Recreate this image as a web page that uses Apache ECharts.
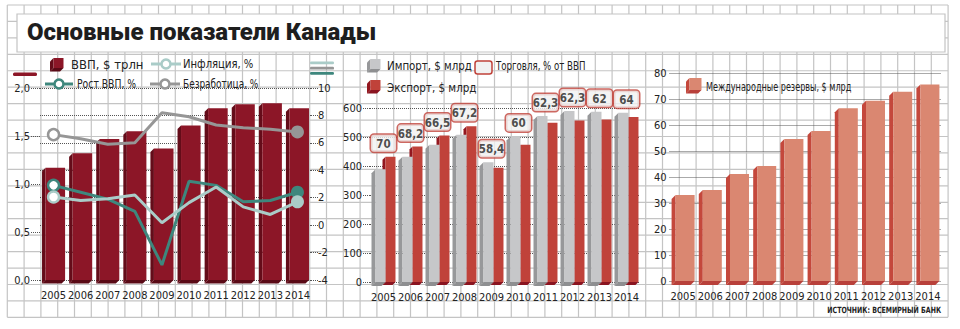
<!DOCTYPE html>
<html><head><meta charset="utf-8">
<script src="https://cdn.jsdelivr.net/npm/echarts@6/dist/echarts.min.js"></script>
<style>html,body{margin:0;padding:0;background:#fff}#c{width:960px;height:329px}</style>
</head><body><div id="c"></div>
<script>
// ---- data ----
const years = ['2005','2006','2007','2008','2009','2010','2011','2012','2013','2014'];
const gdpTrillion = [1.17,1.32,1.47,1.55,1.37,1.61,1.79,1.83,1.84,1.79];
const inflationPct = [2.05,1.8,1.93,2.2,0.17,1.64,2.78,1.33,0.78,1.7];
const gdpGrowthPct = [2.9,2.4,1.9,1.0,-2.9,3.2,2.9,1.7,1.8,2.4];
const unemploymentPct = [6.6,6.3,5.9,6.0,8.2,7.9,7.3,7.1,7.0,6.8];
const importsBn = [389,432,473,508,413,502,572,590,587,584];
const exportsBn = [432,467,505,537,394,473,549,557,560,569];
const tradePctGdp = [70,68.2,66.5,67.2,58.4,60,62.3,62.3,62,64];
const reservesBn = [33.1,35.0,41.2,44.2,54.6,57.7,66.4,69.3,72.8,75.6];
const gdpTicks = [0,0.5,1,1.5,2];
const rateTicks = [-4,-2,0,2,4,6,8,10];
const tradeTicks = [0,100,200,300,400,500,600];
const reserveTicks = [0,10,20,30,40,50,60,70,80];

const title = 'Основные показатели Канады';
const source = 'ИСТОЧНИК: ВСЕМИРНЫЙ БАНК';

// ---- styles ----
const NARROW = "'DejaVu Sans Condensed','Liberation Sans',sans-serif";
const C = {
  gdp:['#8c1627','#640c19','#5a0a16'],
  imp:['#c6c7c9','#97989a','#8e8f91'],
  exp:['#c0423a','#93171f','#8a1420'],
  res:['#da8771','#c4483c','#b8403a'],
  growth:'#3e877d', infl:'#aaccc8', unemp:'#969696', grid:'#c4c4c4', dot:'#555'
};

function bar3d(col, l, r, d){
  return function(params, api){
    const x = api.value(0), v = api.value(1);
    const top = api.coord([x, v]), base = api.coord([x, 0]);
    const bw = api.size([1,0])[0];
    const xL = top[0] + bw*l, xR = top[0] + bw*r;
    return {type:'group', children:[
      {type:'polygon', shape:{points:[[xL-d, top[1]+d],[xL, top[1]],[xL, base[1]],[xL-d, base[1]+d]]}, style:{fill:col[1]}},
      {type:'polygon', shape:{points:[[xL-d, base[1]+d],[xL, base[1]],[xR, base[1]],[xR-d, base[1]+d]]}, style:{fill:col[2]}},
      {type:'rect', shape:{x:xL, y:top[1], width:xR-xL, height:base[1]-top[1]}, style:{fill:col[0]}}
    ]};
  };
}
function pairs(arr){ return arr.map((v,i)=>[i,v]); }
function lineData(arr, col){
  return arr.map((v,i)=> i===0 ? {value:v, symbol:'circle', symbolSize:11, itemStyle:{color:'#fff', borderColor:col, borderWidth:2.5}}
    : i===arr.length-1 ? {value:v, symbol:'circle', symbolSize:13, itemStyle:{color:col, borderWidth:0}}
    : {value:v, symbol:'none'});
}

// ---- decorative graphics ----
const g = [];
for(let i=0;i<=56;i++){ const x=7.3+i*16.8; g.push({type:'line', z:0, silent:true, shape:{x1:x,y1:5,x2:x,y2:317.3}, style:{stroke:C.grid, lineWidth:1.2}}); }
for(let j=0;j<=19;j++){ const y=5+j*16.44; g.push({type:'line', z:0, silent:true, shape:{x1:7.3,y1:y,x2:948,y2:y}, style:{stroke:C.grid, lineWidth:1.2}}); }
g.push({type:'rect', z:1, shape:{x:17, y:14, width:928, height:38}, style:{fill:'#fff', stroke:C.grid, lineWidth:1.2}});
function cube(x,y,s,col){
  const d=3.5;
  g.push({type:'polygon', z:10, shape:{points:[[x,y+d],[x+d,y],[x+d,y+s],[x,y+s+d]]}, style:{fill:col[1]}});
  g.push({type:'polygon', z:10, shape:{points:[[x,y+s+d],[x+d,y+s],[x+d+s,y+s],[x+s,y+s+d]]}, style:{fill:col[2]}});
  g.push({type:'rect', z:10, shape:{x:x+d, y:y, width:s, height:s}, style:{fill:col[0]}});
}
function lineIcon(x1,x2,y,col){
  g.push({type:'line', z:10, shape:{x1:x1,y1:y,x2:x2,y2:y}, style:{stroke:col, lineWidth:3}});
  g.push({type:'circle', z:11, shape:{cx:(x1+x2)/2, cy:y, r:4.5}, style:{fill:'#fff', stroke:col, lineWidth:2.5}});
}
function label(x,y,t,sx,size,weight,align){
  g.push({type:'text', z:10, x:x, y:y, scaleX:sx||1, style:{text:t, fill:'#222', font:(weight||'normal')+' '+(size||12)+'px '+NARROW, textVerticalAlign:'middle', textAlign:align||'left'}});
}
// left legend
cube(50,58,10,C.gdp); label(71,65,'ВВП, $ трлн',1.08);
lineIcon(151,181,64,C.infl); label(183,64,'Инфляция, %',0.93);
lineIcon(45,73,84,C.growth); label(77,84,'Рост ВВП, %',0.86);
lineIcon(150,180,84,C.unemp); label(183,84,'Безработица, %',0.83);
g.push({type:'rect', z:10, shape:{x:13,y:72.5,width:24,height:3.5,r:1.5}, style:{fill:C.gdp[0]}});
g.push({type:'rect', z:10, shape:{x:310,y:61.5,width:24,height:2.8,r:1.2}, style:{fill:C.infl}});
g.push({type:'rect', z:10, shape:{x:310,y:66.8,width:24,height:2.8,r:1.2}, style:{fill:C.unemp}});
g.push({type:'rect', z:10, shape:{x:310,y:72,width:24,height:2.8,r:1.2}, style:{fill:C.growth}});
// middle legend
cube(367,59,10,C.imp); label(387,66,'Импорт, $ млрд',0.95);
cube(367,80,10,C.exp); label(387,88,'Экспорт, $ млрд',0.96);
g.push({type:'rect', z:10, shape:{x:475,y:61,width:17,height:13,r:2.5}, style:{fill:'#f1f1f1', stroke:C.exp[0], lineWidth:1.5}});
label(496,66,'Торговля, % от ВВП',0.8);
// right legend
cube(686,78,12,C.res); label(706,86,'Международные резервы, $ млрд',0.75);
label(941,310,source,0.82,8.5,'bold','right');

const axisFont = {color:'#222', fontSize:11, fontFamily:NARROW};
const dotted = {type:'dotted', color:C.dot, width:1};
function xAx(gi){ return {type:'category', gridIndex:gi, data:years, axisLine:{show:false}, axisTick:{show:false}, splitLine:{show:false}, axisLabel:Object.assign({margin:10, interval:0}, axisFont)}; }
function yAx(gi, ticks, opts){
  return Object.assign({type:'value', gridIndex:gi, min:ticks[0], max:ticks[ticks.length-1], interval:ticks[1]-ticks[0],
    axisLine:{show:false}, axisTick:{show:true, length:7, lineStyle:dotted}, splitLine:{show:true, lineStyle:dotted},
    axisLabel:Object.assign({margin:8}, axisFont)}, opts);
}

const option = {
  animation:false,
  title:{text:title, left:22, top:15, textStyle:{fontFamily:'Roboto', fontWeight:900, fontSize:24, color:'#1e1e1e'}},
  graphic:g,
  grid:[
    {left:40, top:88, width:271, height:192},
    {left:370, top:108, width:270, height:174},
    {left:669.5, top:73, width:272, height:208}
  ],
  xAxis:[xAx(0), xAx(1), xAx(2)],
  yAxis:[
    yAx(0, gdpTicks, {position:'left', splitLine:{show:false}, axisTick:{show:true,length:9,lineStyle:dotted},
      axisLabel:Object.assign({margin:10, formatter:v=>v.toFixed(1).replace('.',',')}, axisFont)}),
    yAx(0, rateTicks, {position:'right', axisLabel:Object.assign({margin:7}, axisFont)}),
    yAx(1, tradeTicks, {}),
    yAx(2, reserveTicks, {axisTick:{show:false}, axisLabel:Object.assign({margin:3}, axisFont)})
  ],
  series:[
    {type:'custom', name:'ВВП, $ трлн', xAxisIndex:0, yAxisIndex:0, data:pairs(gdpTrillion), encode:{x:0,y:1}, renderItem:bar3d(C.gdp,-0.296,0.426,3.5)},
    {type:'line', name:'Безработица, %', xAxisIndex:0, yAxisIndex:1, data:lineData(unemploymentPct,C.unemp), symbol:'circle', showAllSymbol:true, lineStyle:{color:C.unemp,width:3}, itemStyle:{color:C.unemp}},
    {type:'line', name:'Рост ВВП, %', xAxisIndex:0, yAxisIndex:1, data:lineData(gdpGrowthPct,C.growth), symbol:'circle', showAllSymbol:true, lineStyle:{color:C.growth,width:3}, itemStyle:{color:C.growth}},
    {type:'line', name:'Инфляция, %', xAxisIndex:0, yAxisIndex:1, data:lineData(inflationPct,C.infl), symbol:'circle', showAllSymbol:true, lineStyle:{color:C.infl,width:3}, itemStyle:{color:C.infl}},
    {type:'custom', name:'Экспорт, $ млрд', xAxisIndex:1, yAxisIndex:2, data:pairs(exportsBn), encode:{x:0,y:1}, renderItem:bar3d(C.exp,0.074,0.444,3)},
    {type:'custom', name:'Импорт, $ млрд', xAxisIndex:1, yAxisIndex:2, data:pairs(importsBn), encode:{x:0,y:1}, renderItem:bar3d(C.imp,-0.296,0.074,4)},
    {type:'scatter', name:'Торговля, % от ВВП', xAxisIndex:1, yAxisIndex:2, symbolSize:0,
      data:tradePctGdp.map((t,i)=>[i, Math.max(importsBn[i], exportsBn[i])]),
      label:{show:true, position:'top', distance:5, formatter:p=>String(tradePctGdp[p.dataIndex]).replace('.',','),
        width:19, align:'center', color:'#222', fontWeight:'bold', fontSize:11.5, fontFamily:NARROW,
        backgroundColor:'#f1f1f1', borderColor:C.exp[0], borderWidth:1.5, borderRadius:3, padding:[3,3,2,3]}},
    {type:'custom', name:'Международные резервы, $ млрд', xAxisIndex:2, yAxisIndex:3, data:pairs(reservesBn), encode:{x:0,y:1}, renderItem:bar3d(C.res,-0.276,0.423,4)}
  ]
};
const chart = echarts.init(document.getElementById('c'), null, {renderer:'svg'});
chart.setOption(option);
</script></body></html>
